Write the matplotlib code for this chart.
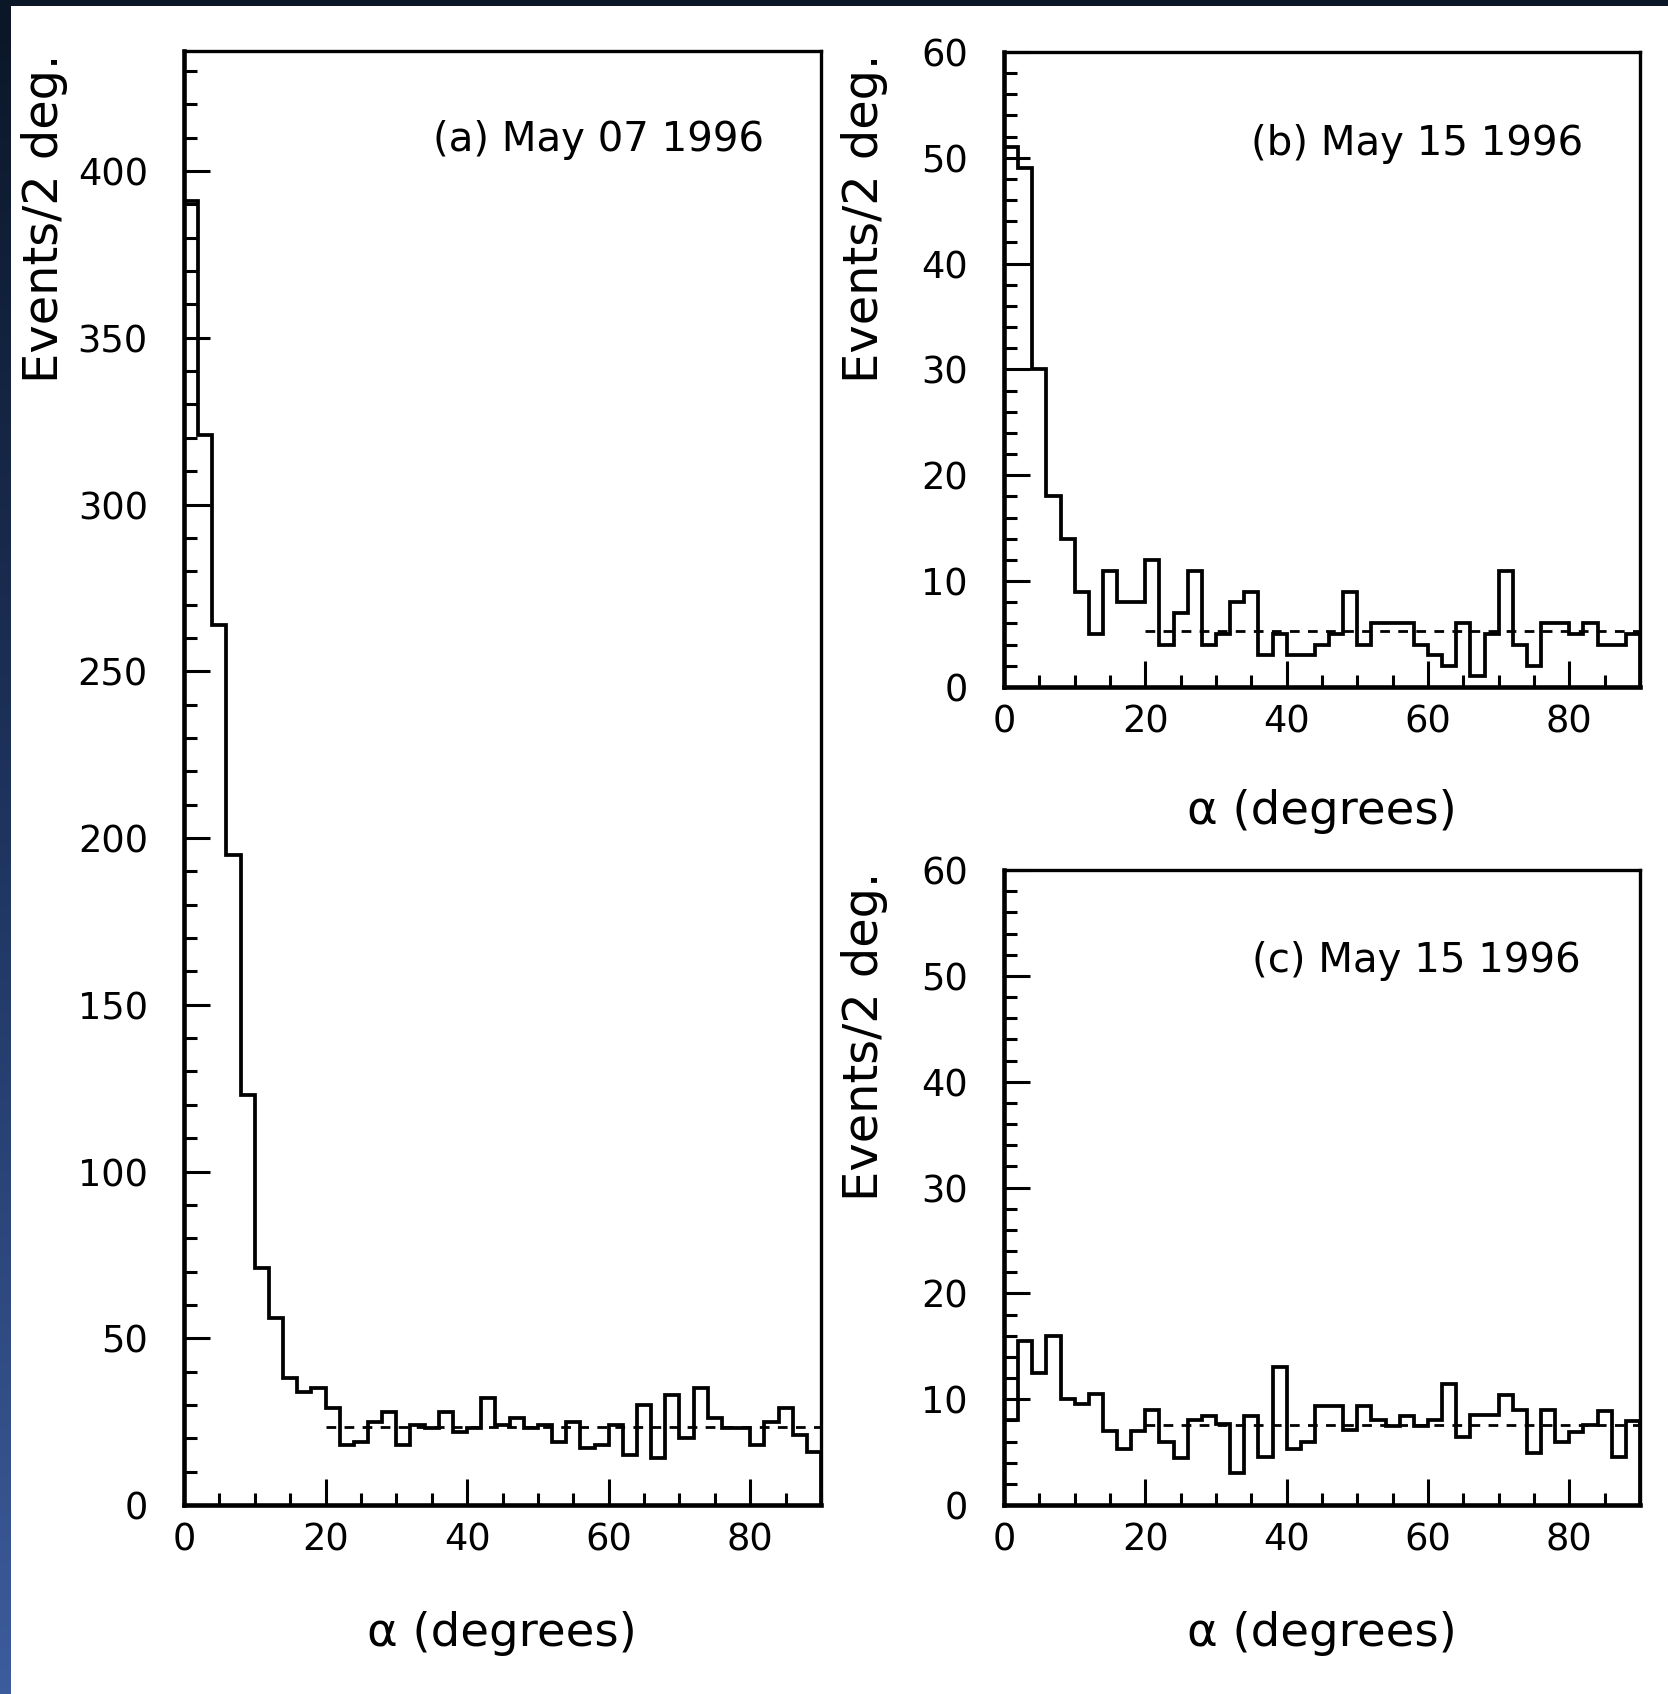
import numpy as np
import matplotlib
matplotlib.use('Agg')
import matplotlib.pyplot as plt
from matplotlib.ticker import MultipleLocator
from matplotlib.colors import LinearSegmentedColormap

# ---------------- data ----------------
bin_edges = np.arange(0, 92, 2)  # 2-degree bins, 0..90

counts_a = [391, 321, 264, 195, 123, 71, 56, 38, 34, 35,
            29, 18, 19, 25, 28, 18, 24, 23, 28, 22,
            23, 32, 24, 26, 23, 24, 19, 25, 17, 18,
            24, 15, 30, 14, 33, 20, 35, 26, 23, 23,
            18, 25, 29, 21, 16]

counts_b = [51, 49, 30, 18, 14, 9, 5, 11, 8, 8,
            12, 4, 7, 11, 4, 5, 8, 9, 3, 5,
            3, 3, 4, 5, 9, 4, 6, 6, 6, 4,
            3, 2, 6, 1, 5, 11, 4, 2, 6, 6,
            5, 6, 4, 4, 5]

counts_c = [8.0, 15.5, 12.5, 16.0, 10.0, 9.5, 10.5, 7.0, 5.3, 7.0,
            9.0, 6.0, 4.4, 8.0, 8.4, 7.7, 3.0, 8.4, 4.5, 13.0,
            5.3, 6.0, 9.4, 9.4, 7.1, 9.4, 8.0, 7.5, 8.4, 7.5,
            8.0, 11.4, 6.4, 8.5, 8.5, 10.4, 9.0, 4.9, 9.0, 6.0,
            6.9, 7.6, 8.9, 4.5, 7.9]

background_a = 23.5
background_b = 5.3
background_c = 7.6
background_range = [20, 90]

titles = ["(a) May 07 1996", "(b) May 15 1996", "(c) May 15 1996"]
xlabel = "\u03b1 (degrees)"
ylabel = "Events/2 deg."

# ---------------- figure ----------------
W, H = 1668, 1694
fig = plt.figure(figsize=(W / 100, H / 100), dpi=100)
fig.patch.set_facecolor('white')

# slide-like dark border: top band and left gradient strip
top = fig.add_axes([0, 1 - 6 / H, 1, 6 / H])
top.set_axis_off()
top.add_patch(plt.Rectangle((0, 0), 1, 1, color='#0b1627', transform=top.transAxes))
strip = fig.add_axes([0, 0, 11 / W, 1])
grad = np.linspace(0, 1, 256).reshape(-1, 1)
cm = LinearSegmentedColormap.from_list('strip', ['#0b1627', '#1f3560', '#3d5c9c'])
strip.imshow(grad, aspect='auto', cmap=cm, extent=[0, 1, 0, 1], origin='upper')
strip.set_axis_off()


def px_axes(l, t, r, b):
    return fig.add_axes([l / W, 1 - b / H, (r - l) / W, (b - t) / H])


ax_a = px_axes(184, 51, 821, 1505)
ax_b = px_axes(1004, 52, 1640, 687)
ax_c = px_axes(1004, 870, 1640, 1505)

panels = [
    (ax_a, counts_a, background_a, 436, 50, 10),
    (ax_b, counts_b, background_b, 60, 10, 2),
    (ax_c, counts_c, background_c, 60, 10, 2),
]

for ax, counts, bg, ymax, ymaj, ymin in panels:
    ax.plot(background_range, [bg, bg], color='black', lw=2.0,
            dashes=(3.5, 3), zorder=2)
    ax.stairs(counts, bin_edges, color='black', lw=2.7, zorder=3)
    ax.set_xlim(0, 90)
    ax.set_ylim(0, ymax)
    ax.xaxis.set_major_locator(MultipleLocator(20))
    ax.xaxis.set_minor_locator(MultipleLocator(5))
    ax.yaxis.set_major_locator(MultipleLocator(ymaj))
    ax.yaxis.set_minor_locator(MultipleLocator(ymin))
    ax.tick_params(which='both', direction='in', top=False, right=False,
                   width=2.2, colors='black')
    ax.tick_params(which='major', length=19)
    ax.tick_params(which='minor', length=9)
    ax.tick_params(axis='y', which='major', labelsize=26.5, pad=26)
    ax.tick_params(axis='x', which='major', labelsize=26.5, pad=12)
    for side in ['left', 'bottom']:
        ax.spines[side].set_linewidth(3.3)
    for side in ['top', 'right']:
        ax.spines[side].set_linewidth(2.4)

# panel annotations (right edge / vertical centre in pixels)
for title, (right_px, yc_px) in zip(titles, [(764, 140), (1583, 144), (1581, 961)]):
    fig.text(right_px / W, 1 - yc_px / H, title, ha='right', va='center',
             fontsize=29)

# axis labels placed like the original
for xc, yc in [(502, 1633), (1322, 812), (1322, 1633)]:
    fig.text(xc / W, 1 - yc / H, xlabel, ha='center', va='center', fontsize=33.5)
for xc, ytop in [(45, 54), (864, 54), (864, 872)]:
    fig.text(xc / W, 1 - ytop / H, ylabel, rotation=90, ha='center', va='top',
             fontsize=34.5)

fig.savefig('out.png', dpi=100, facecolor=fig.get_facecolor())
